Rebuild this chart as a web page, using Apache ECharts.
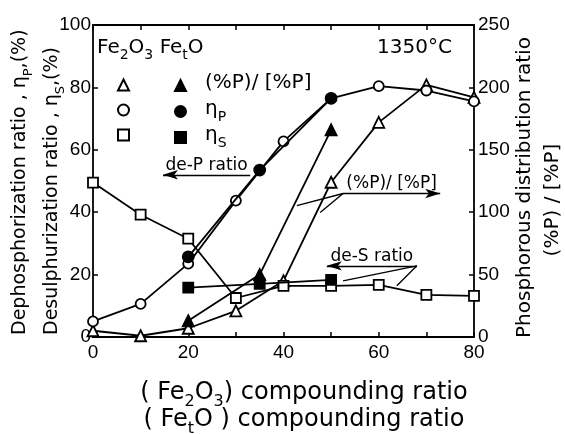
<!DOCTYPE html>
<html>
<head>
<meta charset="utf-8">
<script src="https://cdn.jsdelivr.net/npm/echarts@6/dist/echarts.min.js"></script>
<style>
  html, body { margin: 0; padding: 0; background: #fff; }
  #chart { width: 565px; height: 434px; }
</style>
</head>
<body>
<div id="chart"></div>
<script>
// Compounding ratio (%) of each flux oxide
const xFe2O3 = [0, 10, 20, 30, 40, 50, 60, 70, 80];
const xFetO = [20, 35, 50];

// Phosphorus distribution ratio (%P)/[%P]  (right axis)
const pRatioFe2O3 = [5, 1, 7, 21, 45, 124, 172, 202, 192];
const pRatioFetO = [13, 50, 166];

// Dephosphorization ratio etaP (%)  (left axis)
const etaPFe2O3 = [5, 10.6, 23.5, 43.7, 62.7, 76.5, 80.4, 79, 75.5];
const etaPFetO = [25.7, 53.5, 76.5];

// Desulphurization ratio etaS (%)  (left axis)
const etaSFe2O3 = [49.5, 39.2, 31.5, 12.5, 16.4, 16.4, 16.7, 13.5, 13.2];
const etaSFetO = [15.8, 17, 18.3];

// Tick labels
const xTickLabels = [0, 20, 40, 60, 80];
const leftTickLabels = [0, 20, 40, 60, 80, 100];
const rightTickLabels = [0, 50, 100, 150, 200, 250];

const FONT = 'DejaVu Sans';
const TICK_FONT = 'Liberation Sans';
const INK = '#000';

function pairs(xs, ys) { return xs.map((x, i) => [x, ys[i]]); }

function curve(name, xs, ys, symbol, filled, yAxisIndex, size) {
  return {
    name, type: 'line', xAxisIndex: 0, yAxisIndex,
    data: pairs(xs, ys),
    symbol, symbolSize: size, showSymbol: true,
    animation: false, silent: true,
    z: filled ? 4 : 3,
    lineStyle: { color: INK, width: 1.8 },
    itemStyle: { color: filled ? INK : '#fff', borderColor: INK, borderWidth: 1.8 },
    emphasis: { disabled: true }
  };
}

const N = {
  triO: 'Fe2O3 P-distribution', triF: 'FetO P-distribution',
  cirO: 'Fe2O3 etaP', cirF: 'FetO etaP',
  sqO: 'Fe2O3 etaS', sqF: 'FetO etaS'
};

const series = [
  curve(N.triO, xFe2O3, pRatioFe2O3, 'triangle', false, 1, 11),
  curve(N.cirO, xFe2O3, etaPFe2O3, 'circle', false, 0, 10),
  curve(N.sqO, xFe2O3, etaSFe2O3, 'rect', false, 0, 10),
  curve(N.triF, xFetO, pRatioFetO, 'triangle', true, 1, 11),
  curve(N.cirF, xFetO, etaPFetO, 'circle', true, 0, 11),
  curve(N.sqF, xFetO, etaSFetO, 'rect', true, 0, 10)
];

// Annotation arrows and leader lines, in (compounding ratio, left-axis %) units
const annLabel = (text, dist) => ({
  show: true, formatter: text, position: 'insideMiddleTop', distance: dist,
  color: INK, fontFamily: FONT, fontSize: 17
});
series[5].markLine = {
  silent: true, animation: false,
  symbol: ['none', 'none'], symbolSize: [7, 15],
  lineStyle: { color: INK, width: 1.4, type: 'solid' },
  label: { show: false },
  emphasis: { disabled: true },
  data: [
    [{ coord: [14.7, 52], symbol: 'arrow', label: annLabel('de-P ratio', 1) }, { coord: [33, 52] }],
    [{ coord: [52.5, 46], label: annLabel('(%P)/ [%P]', 1) }, { coord: [72.9, 46], symbol: 'arrow' }],
    [{ coord: [52.5, 46] }, { coord: [42.8, 42.1] }],
    [{ coord: [52.5, 46] }, { coord: [47.7, 39.9] }],
    [{ coord: [49.1, 22.8], symbol: 'arrow', label: annLabel('de-S ratio', 1) }, { coord: [68, 22.8] }],
    [{ coord: [68, 22.8] }, { coord: [52.5, 18] }],
    [{ coord: [68, 22.8] }, { coord: [63.8, 16.4] }]
  ]
};

const axisLine = { show: true, onZero: false, lineStyle: { color: INK, width: 1.8 } };
const tick = { show: true, inside: true, length: 5, lineStyle: { color: INK, width: 1.5 } };
const tickText = { color: INK, fontFamily: TICK_FONT, fontSize: 19 };

// rich styles for subscripts in drawn text
function richSet(size, subSize, fill) {
  const key = fill ? 'fill' : 'color';
  return {
    n: { fontFamily: FONT, fontSize: size, lineHeight: size + 5, verticalAlign: 'top', [key]: INK },
    g: { fontFamily: FONT, fontSize: size, lineHeight: size + 5, verticalAlign: 'top', [key]: INK },
    s: { fontFamily: FONT, fontSize: subSize, lineHeight: subSize, verticalAlign: 'bottom', [key]: INK },
    sp: { fontFamily: FONT, fontSize: size, lineHeight: size + 5, width: 14, [key]: INK }
  };
}

function gText(x, y, text, size, subSize, opts) {
  return Object.assign({
    type: 'text', x, y, silent: true,
    style: {
      text, rich: richSet(size, subSize, true),
      fontFamily: FONT, fontSize: size, fill: INK,
      align: (opts && opts.align) || 'left', verticalAlign: 'middle'
    }
  }, opts && opts.rotation ? { rotation: opts.rotation } : {});
}

const legendBase = {
  orient: 'vertical', top: 73, itemWidth: 11, itemHeight: 11, itemGap: 1,
  selectedMode: false, padding: 0,
  textStyle: { fontFamily: FONT, fontSize: 20, color: INK, lineHeight: 24, rich: richSet(20, 14, false) }
};

const legendText = {
  [N.triF]: '{sp|}{n|(%P)/ [%P]}',
  [N.cirF]: '{sp|}{g|η}{s|P}',
  [N.sqF]: '{sp|}{g|η}{s|S}'
};

const option = {
  backgroundColor: '#fff',
  animation: false,
  grid: { left: 93, right: 91, top: 25, bottom: 97, containLabel: false },
  xAxis: [
    {
      type: 'value', min: 0, max: 80, interval: 10, position: 'bottom',
      axisLine, axisTick: tick, splitLine: { show: false },
      axisLabel: Object.assign({ margin: 6, formatter: v => xTickLabels.includes(v) ? String(v) : '' }, tickText)
    },
    {
      type: 'value', min: 0, max: 80, interval: 10, position: 'top',
      axisLine, axisTick: tick, splitLine: { show: false }, axisLabel: { show: false }
    }
  ],
  yAxis: [
    {
      type: 'value', min: 0, max: 100, interval: 20, position: 'left',
      axisLine, axisTick: tick, splitLine: { show: false },
      axisLabel: Object.assign({ margin: 2, formatter: v => leftTickLabels.includes(v) ? String(v) : '' }, tickText)
    },
    {
      type: 'value', min: 0, max: 250, interval: 50, position: 'right',
      axisLine, axisTick: tick, splitLine: { show: false },
      axisLabel: Object.assign({ margin: 4, formatter: v => rightTickLabels.includes(v) ? String(v) : '' }, tickText)
    }
  ],
  legend: [
    Object.assign({}, legendBase, {
      left: 117,
      data: [{ name: N.triO, icon: 'triangle' }, { name: N.cirO, icon: 'circle' }, { name: N.sqO, icon: 'rect' }],
      formatter: () => ' '
    }),
    Object.assign({}, legendBase, {
      left: 174,
      data: [{ name: N.triF, icon: 'triangle' }, { name: N.cirF, icon: 'circle' }, { name: N.sqF, icon: 'rect' }],
      formatter: name => legendText[name]
    })
  ],
  graphic: [
    gText(97, 50, '{n|Fe}{s|2}{n|O}{s|3}{n| Fe}{s|t}{n|O}', 20, 14),
    gText(377, 50, '{n|1350°C}', 20, 14),
    gText(304, 395, '{n|( Fe}{s|2}{n|O}{s|3}{n|) compounding ratio}', 24, 16, { align: 'center' }),
    gText(304, 422, '{n|( Fe}{s|t}{n|O ) compounding ratio}', 24, 16, { align: 'center' }),
    gText(23, 335, '{n|Dephosphorization ratio , }{g|η}{s|P}{n|,(%)}', 19, 13, { rotation: Math.PI / 2 }),
    gText(55, 335, '{n|Desulphurization ratio , }{g|η}{s|S}{n|,(%)}', 19, 13, { rotation: Math.PI / 2 }),
    gText(527, 338, '{n|Phosphorous distribution ratio}', 20, 14, { rotation: Math.PI / 2 }),
    gText(555, 200, '{n|(%P) / [%P]}', 20, 14, { rotation: Math.PI / 2, align: 'center' })
  ],
  series
};

const chart = echarts.init(document.getElementById('chart'), null, { renderer: 'canvas' });
chart.setOption(option);
</script>
</body>
</html>
